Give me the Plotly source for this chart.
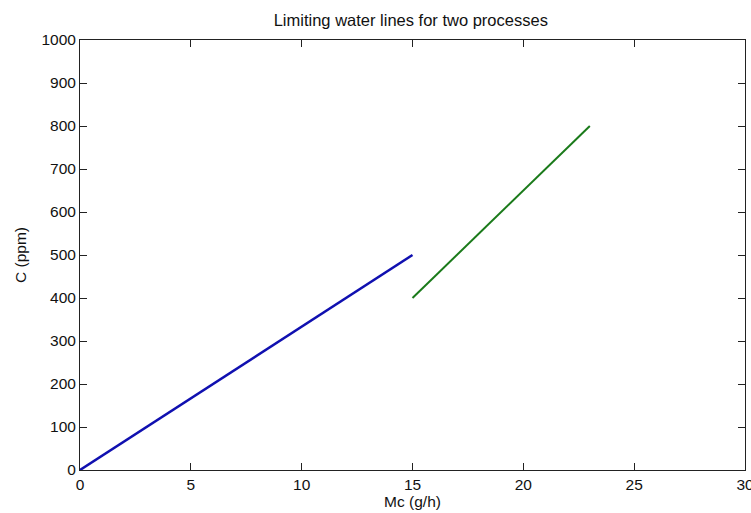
import plotly.graph_objects as go

# Limiting water line for each process: contaminant load (g/h) vs concentration (ppm)
process1_mass = [0, 15]
process1_conc = [0, 500]
process2_mass = [15, 23]
process2_conc = [400, 800]

x_ticks = [0, 5, 10, 15, 20, 25, 30]
y_ticks = [0, 100, 200, 300, 400, 500, 600, 700, 800, 900, 1000]

font = dict(family="Liberation Sans, Arial, sans-serif", size=15.5, color="#111111")
title_font = dict(font, size=16.5)

fig = go.Figure()
fig.add_trace(go.Scatter(x=process1_mass, y=process1_conc, mode="lines",
                         line=dict(color="#1010b0", width=2.5), showlegend=False))
fig.add_trace(go.Scatter(x=process2_mass, y=process2_conc, mode="lines",
                         line=dict(color="#1a7a1a", width=2), showlegend=False))

axis_common = dict(showgrid=False, zeroline=False, showline=True, linecolor="#222222",
                   linewidth=1, mirror="allticks", ticks="inside", ticklen=7,
                   tickcolor="#222222", tickwidth=1, tickfont=font,
                   ticklabeloverflow="allow", automargin=False)

fig.update_xaxes(range=[0, 30.0001], tickvals=x_ticks, ticktext=[str(v) for v in x_ticks],
                 title=dict(text="Mc (g/h)", font=font, standoff=2), **axis_common)
fig.update_yaxes(range=[0, 1000.001], tickvals=y_ticks, ticktext=[str(v) for v in y_ticks],
                 title=dict(text="C (ppm)", font=font, standoff=10), **axis_common)

fig.update_layout(
    width=751, height=513,
    margin=dict(l=80, r=6, t=40, b=43),
    paper_bgcolor="white", plot_bgcolor="white",
    title=dict(text="Limiting water lines for two processes", font=title_font,
               x=0.547, xanchor="center", y=0.96, yanchor="middle"),
)

fig.write_html("out.html")
